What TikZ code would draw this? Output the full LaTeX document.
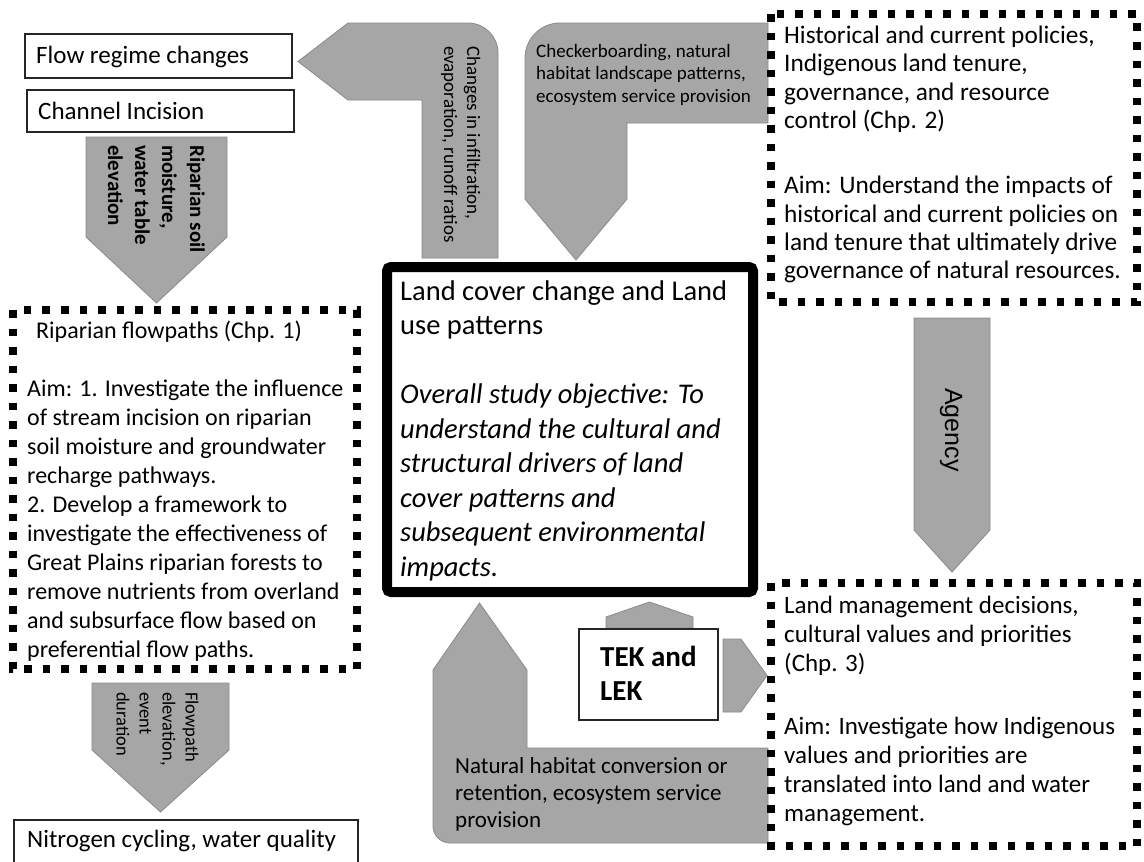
\documentclass[tikz,border=0pt]{standalone}
\usepackage{fontspec}
\setmainfont{Carlito}
\newfontfamily\agencyfont{Liberation Sans}
\newcommand{\fsz}[2]{\fontsize{#1}{#2}\selectfont}
\newcommand{\firstln}{\rule{0pt}{1em}}
\definecolor{arrowgray}{RGB}{166,166,166}
\definecolor{arrowedge}{RGB}{138,138,138}
\begin{document}
\begin{tikzpicture}[x=1pt,y=-1pt,
  grayarrow/.style={fill=arrowgray, draw=arrowedge, line width=0.8pt},
  plainbox/.style={draw=black!85, line width=1.2pt, fill=white},
  dotbox/.style={draw=black, line width=7.5pt, dash pattern=on 7.5pt off 11pt},
  mainbox/.style={draw=black, line width=10pt, rounded corners=4pt},
  txt/.style={inner sep=0pt, anchor=north west, align=left},
  oneline/.style={inner sep=0pt, anchor=base west},
  vline/.style={inner sep=0pt, anchor=base west, rotate=-90}]
\clip (0,0) rectangle (1144,862);
\fill[white] (0,0) rectangle (1144,862);

% gray block arrows
\filldraw[grayarrow] (298,61.5) -- (348,23) -- (468,23) .. controls (484.6,23) and (498,36.4) .. (498,53) -- (498,258) -- (422,258) -- (422,100) -- (348,100) -- cycle;
\filldraw[grayarrow] (525,58) .. controls (525,38.7) and (540.7,23) .. (560,23) -- (768,23) -- (768,123) -- (627,123) -- (627,199) -- (576,260) -- (525,199) -- cycle;
\filldraw[grayarrow] (86,137) -- (227,137) -- (227,237) -- (156.5,303) -- (86,237) -- cycle;
\filldraw[grayarrow] (92,683) -- (229,683) -- (229,750) -- (160.5,812) -- (92,750) -- cycle;
\filldraw[grayarrow] (914,318) -- (990,318) -- (990,530) -- (952,572) -- (914,530) -- cycle;
\filldraw[grayarrow] (606,628) -- (693,628) -- (693,617) -- (649.5,602) -- (606,617) -- cycle;
\filldraw[grayarrow] (723,639) -- (741,639) -- (767,675.5) -- (741,712) -- (723,712) -- cycle;
\filldraw[grayarrow] (479.5,603) -- (527,670) -- (527,748) -- (768,748) -- (768,843) -- (450,843) .. controls (440.6,843) and (433,835.4) .. (433,826) -- (433,670) -- cycle;

% boxes
\draw[plainbox] (25,34) rectangle (292,78);
\draw[plainbox] (27,90) rectangle (294,132);
\draw[plainbox] (14,820) rectangle (358,880);
\draw[plainbox] (579,629) rectangle (718,720);
\draw[mainbox] (387,267) rectangle (753,592);
\draw[dotbox] (771,14) rectangle (1137,302);
\draw[dotbox] (13,310) rectangle (357,669);
\draw[dotbox] (771,583) rectangle (1137,846);

% texts
\node[oneline, font=\fsz{25}{30}] (flow) at (36,63) {Flow regime changes};
\node[oneline, font=\fsz{25}{30}] (chan) at (38,119) {Channel Incision};
\node[oneline, font=\fsz{25}{30}] (nitro) at (27,847) {Nitrogen cycling, water quality};

% rotated arrow labels, one node per line
\node[vline, font=\fsz{19}{23}] (infilA) at (467,46) {Changes in infiltration,};
\node[vline, font=\fsz{19}{23}] (infilB) at (444,46) {evaporation, runoff ratios};

\node[vline, font=\bfseries\fsz{21}{27}] (soilA) at (190,145) {Riparian soil};
\node[vline, font=\bfseries\fsz{21}{27}] (soilB) at (162,145) {moisture,};
\node[vline, font=\bfseries\fsz{21}{27}] (soilC) at (135,145) {water table};
\node[vline, font=\bfseries\fsz{21}{27}] (soilD) at (108,145) {elevation};

\node[vline, font=\fsz{18.5}{23}] (fpathA) at (185.5,692) {Flowpath};
\node[vline, font=\fsz{18.5}{23}] (fpathB) at (162.5,692) {elevation,};
\node[vline, font=\fsz{18.5}{23}] (fpathC) at (139.5,692) {event};
\node[vline, font=\fsz{18.5}{23}] (fpathD) at (116.5,692) {duration};

\node[inner sep=0pt, rotate=-90, font=\agencyfont\fsz{25}{30}] (agency) at (951,430) {Agency};

\node[txt, font=\fsz{19}{22.6}] (checker) at (536,38) {\firstln Checkerboarding, natural\\habitat landscape patterns,\\ecosystem service provision};

\node[txt, font=\fsz{25.3}{28.4}] (hist) at (784,18) {\firstln Historical and current policies,\\Indigenous land tenure,\\governance, and resource\\control (Chp. 2)\\[36.6pt]Aim: Understand the impacts of\\historical and current policies on\\land tenure that ultimately drive\\governance of natural resources.};

\node[txt, font=\fsz{24}{29}] (rip) at (27,314) {\firstln\hspace{9pt}Riparian flowpaths (Chp. 1)\\[29pt]Aim: 1. Investigate the influence\\of stream incision on riparian\\soil moisture and groundwater\\recharge pathways.\\2. Develop a framework to\\investigate the effectiveness of\\Great Plains riparian forests to\\remove nutrients from overland\\and subsurface flow based on\\preferential flow paths.};

\node[txt, font=\fsz{28.5}{34.5}] (main) at (400,271.5) {\firstln Land cover change and Land\\use patterns\\[34.5pt]\textit{Overall study objective: To}\\\textit{understand the cultural and}\\\textit{structural drivers of land}\\\textit{cover patterns and}\\\textit{subsequent environmental}\\\textit{impacts.}};

\node[txt, font=\bfseries\fsz{29}{34}] (tek) at (600,637) {\firstln TEK and\\LEK};

\node[txt, font=\fsz{23}{27}] (nat) at (455,750) {\firstln Natural habitat conversion or\\retention, ecosystem service\\provision};

\node[txt, font=\fsz{25}{29}] (mgmt) at (784,588) {\firstln Land management decisions,\\cultural values and priorities\\(Chp. 3)\\[34pt]Aim: Investigate how Indigenous\\values and priorities are\\translated into land and water\\management.};
\end{tikzpicture}
\end{document}
